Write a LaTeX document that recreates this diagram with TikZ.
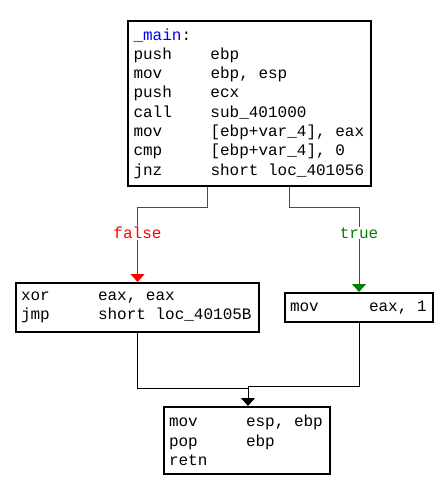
\documentclass[tikz,border=0pt]{standalone}
\usepackage{fontspec}
\setmonofont{Liberation Mono}
\usetikzlibrary{arrows.meta}
\definecolor{idablue}{RGB}{0,0,255}
\definecolor{idared}{RGB}{255,0,0}
\definecolor{idagreen}{RGB}{0,128,0}
\newcommand{\ins}[2]{\makebox[77pt][l]{#1}#2}
\newcommand{\ms}{\hphantom{0}}
\begin{document}
\begin{tikzpicture}[x=1pt,y=-1pt,
  codefont/.style={font=\fontsize{16}{19.3}\selectfont\ttfamily},
  codebox/.style={codefont, draw=black, line width=2pt, fill=white, anchor=north west,
    align=left, inner xsep=5pt, inner ysep=0pt},
  edge/.style={line width=1pt},
  tip/.style={-{Triangle[width=14pt,length=8pt]}},
  lbl/.style={codefont, fill=white, inner sep=1pt}]
\useasboundingbox (0,0) rectangle (446,490);

\node[codebox, text width=231pt, inner xsep=6pt, minimum height=165pt] (main) at (126.5,20)
 {\textcolor{idablue}{\_main}:\\
  \ins{push}{ebp}\\
  \ins{mov}{ebp,\ms{}esp}\\
  \ins{push}{ecx}\\
  \ins{call}{sub\_401000}\\
  \ins{mov}{[ebp+var\_4],\ms{}eax}\\
  \ins{cmp}{[ebp+var\_4],\ms{}0}\\
  \ins{jnz}{short\ms{}loc\_401056}};

\node[codebox, text width=233pt, minimum height=49pt] (xorb) at (15,282)
 {\ins{xor}{eax,\ms{}eax}\\
  \ins{jmp}{short\ms{}loc\_40105B}};

\node[codebox, text width=138pt, minimum height=29pt] (movb) at (284,292)
 {\ins{mov}{\hspace{2pt}eax,\ms{}1}};

\node[codebox, text width=156pt, minimum height=67pt] (retb) at (163,406)
 {\ins{mov}{esp,\ms{}ebp}\\
  \ins{pop}{ebp}\\
  retn};

\coordinate (j1) at (248,388);
\coordinate (j2) at (248,386);
\coordinate (lblrow) at (0,233);

\draw[edge, idared, tip] ([xshift=80.5pt]main.south west) -- ++(0,20) -| (xorb.north);
\draw[edge, idagreen, tip] ([xshift=162.5pt]main.south west) -- ++(0,20) -| (movb.north);
\node[lbl, text=idared] (flbl) at (xorb.north |- lblrow) {false};
\node[lbl, text=idagreen] (tlbl) at (movb.north |- lblrow) {true};

\draw[edge] (xorb.south) |- (j1);
\draw[edge, tip] (movb.south) |- (j2) -- (j2 |- retb.north);
\end{tikzpicture}
\end{document}
